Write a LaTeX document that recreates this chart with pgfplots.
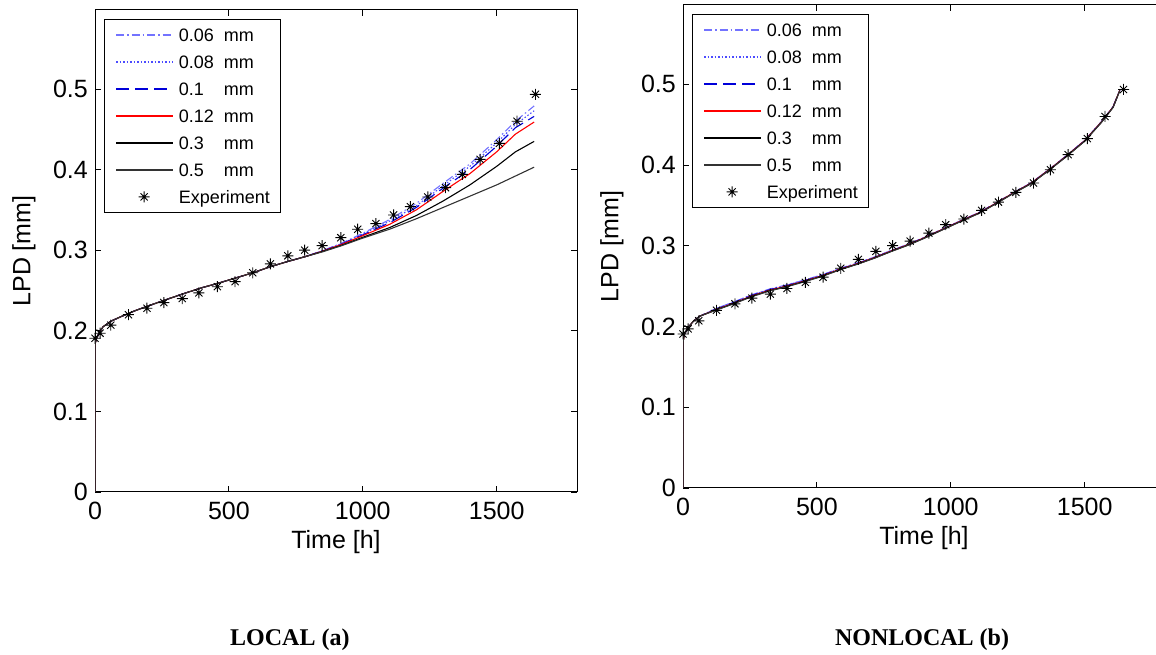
\documentclass[border=0pt]{standalone}
\usepackage{pgfplots}
\pgfplotsset{compat=1.18}
\usepackage{pgfplotstable}
\usepackage{fontspec}
\setmainfont{Liberation Sans}
\newfontfamily\capfont{Liberation Serif}

\pgfdeclareplotmark{mstar}{%
  \pgfpathmoveto{\pgfqpoint{-\pgfplotmarksize}{0pt}}%
  \pgfpathlineto{\pgfqpoint{\pgfplotmarksize}{0pt}}%
  \pgfpathmoveto{\pgfqpoint{0pt}{-\pgfplotmarksize}}%
  \pgfpathlineto{\pgfqpoint{0pt}{\pgfplotmarksize}}%
  \pgfpathmoveto{\pgfqpoint{-0.65\pgfplotmarksize}{-0.65\pgfplotmarksize}}%
  \pgfpathlineto{\pgfqpoint{0.65\pgfplotmarksize}{0.65\pgfplotmarksize}}%
  \pgfpathmoveto{\pgfqpoint{-0.65\pgfplotmarksize}{0.65\pgfplotmarksize}}%
  \pgfpathlineto{\pgfqpoint{0.65\pgfplotmarksize}{-0.65\pgfplotmarksize}}%
  \pgfusepathqstroke}

\definecolor{c06}{rgb}{0.45,0.45,1}
\definecolor{c08}{rgb}{0.3,0.3,1}
\definecolor{c10}{rgb}{0,0,0.85}
\definecolor{c50}{rgb}{0.2,0.2,0.2}

\pgfplotstableread{
t     s06    s08    s10    s12    s30    s50
0     0      0      0      0      0      0
0     0.183  0.183  0.183  0.183  0.183  0.183
5     0.190  0.190  0.190  0.190  0.190  0.190
15    0.197  0.197  0.197  0.197  0.197  0.197
30    0.205  0.205  0.205  0.205  0.205  0.205
60    0.212  0.212  0.212  0.212  0.212  0.212
100   0.218  0.218  0.218  0.218  0.218  0.218
150   0.225  0.225  0.225  0.225  0.225  0.225
200   0.231  0.231  0.231  0.231  0.231  0.231
260   0.238  0.238  0.238  0.238  0.238  0.238
330   0.246  0.246  0.246  0.246  0.246  0.246
400   0.2535 0.2535 0.2535 0.2535 0.2535 0.2535
460   0.259  0.259  0.259  0.259  0.259  0.259
520   0.265  0.265  0.265  0.265  0.265  0.265
590   0.272  0.272  0.272  0.272  0.272  0.272
655   0.2795 0.2795 0.2795 0.2795 0.2795 0.2795
720   0.286  0.286  0.286  0.286  0.286  0.286
785   0.292  0.292  0.292  0.292  0.292  0.292
850   0.2995 0.2993 0.299  0.2988 0.2985 0.298
920   0.3085 0.308  0.3075 0.307  0.306  0.3055
1000  0.321  0.320  0.319  0.318  0.316  0.315
1100  0.338  0.336  0.334  0.332  0.328  0.326
1200  0.358  0.355  0.353  0.350  0.343  0.339
1300  0.383  0.380  0.377  0.373  0.361  0.353
1400  0.407  0.404  0.400  0.395  0.381  0.367
1500  0.437  0.433  0.429  0.422  0.404  0.381
1570  0.460  0.456  0.452  0.444  0.422  0.392
1640  0.479  0.473  0.466  0.459  0.435  0.403
}\localdata

\pgfplotstableread{
t     r06    r08    r10    r12    r30    r50
0     0      0      0      0      0      0
0     0.180  0.180  0.180  0.180  0.180  0.180
5     0.190  0.190  0.190  0.190  0.190  0.190
20    0.199  0.199  0.199  0.199  0.199  0.199
40    0.207  0.207  0.207  0.207  0.207  0.207
63    0.2128 0.2128 0.2128 0.2128 0.2128 0.2128
126   0.2225 0.2222 0.2218 0.2212 0.2208 0.2205
194   0.2310 0.2306 0.2302 0.2294 0.2290 0.2286
256   0.2392 0.2388 0.2384 0.2377 0.2372 0.2368
325   0.2465 0.2461 0.2457 0.2450 0.2445 0.2441
387   0.2515 0.2511 0.2507 0.2500 0.2495 0.2491
455   0.2576 0.2573 0.2569 0.2563 0.2558 0.2555
524   0.2645 0.2642 0.2638 0.2633 0.2628 0.2625
586   0.2718 0.2715 0.2712 0.2708 0.2704 0.2701
654   0.2790 0.2787 0.2784 0.2780 0.2776 0.2773
716   0.2861 0.2859 0.2856 0.2853 0.2849 0.2846
779   0.2943 0.2941 0.2939 0.2936 0.2932 0.2930
847   0.3026 0.3024 0.3022 0.3020 0.3016 0.3014
909   0.3116 0.3114 0.3112 0.3110 0.3106 0.3104
971   0.3210 0.3209 0.3207 0.3205 0.3201 0.3199
1040  0.3315 0.3314 0.3312 0.3310 0.3306 0.3304
1108  0.3415 0.3414 0.3412 0.3410 0.3406 0.3404
1170  0.3532 0.3531 0.3530 0.3528 0.3524 0.3522
1232  0.3654 0.3653 0.3652 0.3650 0.3646 0.3644
1301  0.3780 0.3779 0.3778 0.3776 0.3772 0.3770
1363  0.3934 0.3933 0.3932 0.3930 0.3926 0.3924
1432  0.4114 0.4113 0.4112 0.4110 0.4106 0.4104
1500  0.4304 0.4303 0.4302 0.4300 0.4296 0.4294
1562  0.4534 0.4533 0.4532 0.4530 0.4526 0.4524
1606  0.4720 0.4719 0.4718 0.4717 0.4713 0.4711
1631  0.4925 0.4924 0.4924 0.4923 0.4920 0.4918
}\nonlocaldata

\pgfplotstableread{
t     lpd
0     0.1907
19    0.197
59    0.207
125   0.220
194   0.228
257   0.235
326   0.240
388   0.247
457   0.2547
523   0.261
589   0.272
655   0.283
720   0.293
783   0.300
848   0.3056
918   0.3155
981   0.326
1049  0.333
1115  0.3437
1178  0.354
1243  0.366
1309  0.3776
1372  0.394
1438  0.4127
1510  0.4326
1576  0.460
1645  0.4934
}\expdata

\newcommand{\lab}[1]{\makebox[45pt][l]{#1}mm}

\pgfplotsset{
  myaxis/.style={
    scale only axis, width=482pt,
    xmin=0, xmax=1800, ymin=0, ymax=0.598,
    xtick={0,500,1000,1500}, xticklabels={0,500,1000,1500},
    ytick={0,0.1,0.2,0.3,0.4,0.5}, yticklabels={0,0.1,0.2,0.3,0.4,0.5},
    tick align=inside, major tick length=6pt,
    tick style={black, line width=0.8pt},
    axis line style={line width=1pt},
    ticklabel style={font=\fontsize{25}{30}\selectfont, inner sep=0pt},
    yticklabel style={xshift=-7pt},
    xticklabel style={yshift=-10pt},
    every axis x label/.style={at={(axis description cs:0.5,0)}, anchor=center, yshift=-50pt, font=\fontsize{25}{30}\selectfont},
    every axis y label/.style={at={(axis description cs:0,0.5)}, anchor=center, xshift=-71pt, rotate=90, font=\fontsize{25}{30}\selectfont},
    xlabel={Time [h]}, ylabel={LPD [mm]},
    legend cell align=left,
    legend style={at={(0,1)}, anchor=north west, xshift=9pt, yshift=-9pt,
      line width=0.8pt, fill=white,
      font=\fontsize{18}{22}\selectfont,
      inner xsep=11pt, inner ysep=9pt, row sep=14pt, column sep=5pt,
      nodes={inner sep=0pt, text height=13pt, text depth=0pt}},
  },
  lline/.style={line width=1.1pt, legend image code/.code={\draw[##1, line width=1.4pt] (0pt,0pt) -- (57pt,0pt);}},
  l06/.style={lline, color=c06, dash pattern=on 8pt off 3pt on 1.5pt off 3pt},
  l08/.style={lline, color=c08, dash pattern=on 1.5pt off 2pt},
  l10/.style={lline, color=c10, dash pattern=on 13pt off 6pt},
  l12/.style={lline, color=red},
  l30/.style={lline, color=black},
  l50/.style={lline, color=c50},
  lexp/.style={only marks, mark=mstar, mark size=5.5pt, color=black, line width=0.9pt,
     legend image code/.code={\draw[##1] plot coordinates {(28pt,0pt)};}},
}

\begin{document}
\begin{tikzpicture}
\begin{axis}[myaxis, height=482pt, at={(95pt,163pt)}, anchor=south west]
\addplot[l06] table[x=t,y=s06] {\localdata};
\addlegendentry{\lab{0.06}}
\addplot[l08] table[x=t,y=s08] {\localdata};
\addlegendentry{\lab{0.08}}
\addplot[l10] table[x=t,y=s10] {\localdata};
\addlegendentry{\lab{0.1}}
\addplot[l12] table[x=t,y=s12] {\localdata};
\addlegendentry{\lab{0.12}}
\addplot[l30] table[x=t,y=s30] {\localdata};
\addlegendentry{\lab{0.3}}
\addplot[l50] table[x=t,y=s50] {\localdata};
\addlegendentry{\lab{0.5}}
\addplot[lexp] table[x=t,y=lpd] {\expdata};
\addlegendentry{Experiment}
\end{axis}

\begin{axis}[myaxis, height=483pt, at={(683pt,167pt)}, anchor=south west]
\addplot[l06] table[x=t,y=r06] {\nonlocaldata};
\addlegendentry{\lab{0.06}}
\addplot[l08] table[x=t,y=r08] {\nonlocaldata};
\addlegendentry{\lab{0.08}}
\addplot[l10] table[x=t,y=r10] {\nonlocaldata};
\addlegendentry{\lab{0.1}}
\addplot[l12] table[x=t,y=r12] {\nonlocaldata};
\addlegendentry{\lab{0.12}}
\addplot[l30] table[x=t,y=r30] {\nonlocaldata};
\addlegendentry{\lab{0.3}}
\addplot[l50] table[x=t,y=r50] {\nonlocaldata};
\addlegendentry{\lab{0.5}}
\addplot[lexp] table[x=t,y=lpd] {\expdata};
\addlegendentry{Experiment}
\end{axis}

\node[font=\capfont\fontsize{24}{28}\selectfont\bfseries, anchor=base west, inner sep=0pt] at (230pt,9pt) {LOCAL (a)};
\node[font=\capfont\fontsize{24}{28}\selectfont\bfseries, anchor=base, inner sep=0pt] at (922pt,9pt) {NONLOCAL (b)};

\pgfresetboundingbox
\useasboundingbox (0pt,0pt) rectangle (1156pt,655pt);
\end{tikzpicture}
\end{document}
